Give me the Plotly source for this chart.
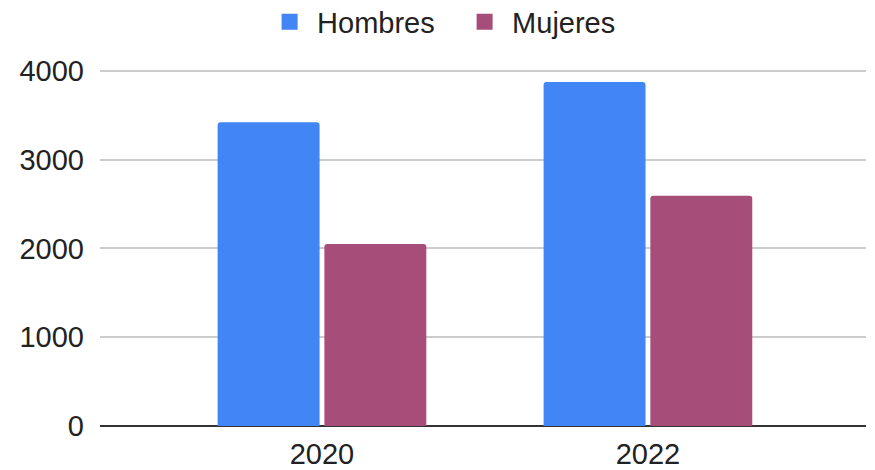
import plotly.graph_objects as go

years = ["2020", "2022"]
hombres = [3420, 3875]
mujeres = [2050, 2592]
series_names = ["Hombres", "Mujeres"]
colors = ["#4285F4", "#A64D79"]
y_ticks = [0, 1000, 2000, 3000, 4000]

FONT = "Liberation Sans, Arial, sans-serif"
FS = 29

fig = go.Figure()
for name, vals, col in zip(series_names, [hombres, mujeres], colors):
    fig.add_trace(go.Bar(x=years, y=vals, name=name, marker=dict(color=col, line=dict(width=0)),
                         showlegend=False))
    fig.add_trace(go.Scatter(x=[None], y=[None], mode="markers", name=name,
                             marker=dict(symbol="square", size=30, color=col)))

fig.update_layout(
    width=867, height=462,
    margin=dict(l=92, r=9, t=61, b=44, autoexpand=False),
    paper_bgcolor="white", plot_bgcolor="white",
    barmode="group", bargap=0.345, bargroupgap=0.045,
    barcornerradius=3,
    font=dict(family=FONT, size=FS, color="#222222"),
    legend=dict(orientation="h", xref="container", yref="container",
                x=0.518, xanchor="center", y=0.97, yanchor="middle",
                font=dict(size=FS, color="#222222"), itemsizing="trace",
                itemwidth=45, entrywidth=135, traceorder="normal"),
    xaxis=dict(type="category", range=[-0.681, 1.669], showgrid=False,
               showline=False, ticks="", zeroline=False,
               ticklabelstandoff=8,
               tickfont=dict(size=FS, color="#222222")),
    yaxis=dict(range=[0, 4020], tickvals=y_ticks, showgrid=True,
               gridcolor="#cccccc", gridwidth=1.5, zeroline=True,
               zerolinecolor="#333333", zerolinewidth=1.5, ticks="",
               ticklabelstandoff=15,
               tickfont=dict(size=FS, color="#222222")),
)

fig.write_html("out.html")
